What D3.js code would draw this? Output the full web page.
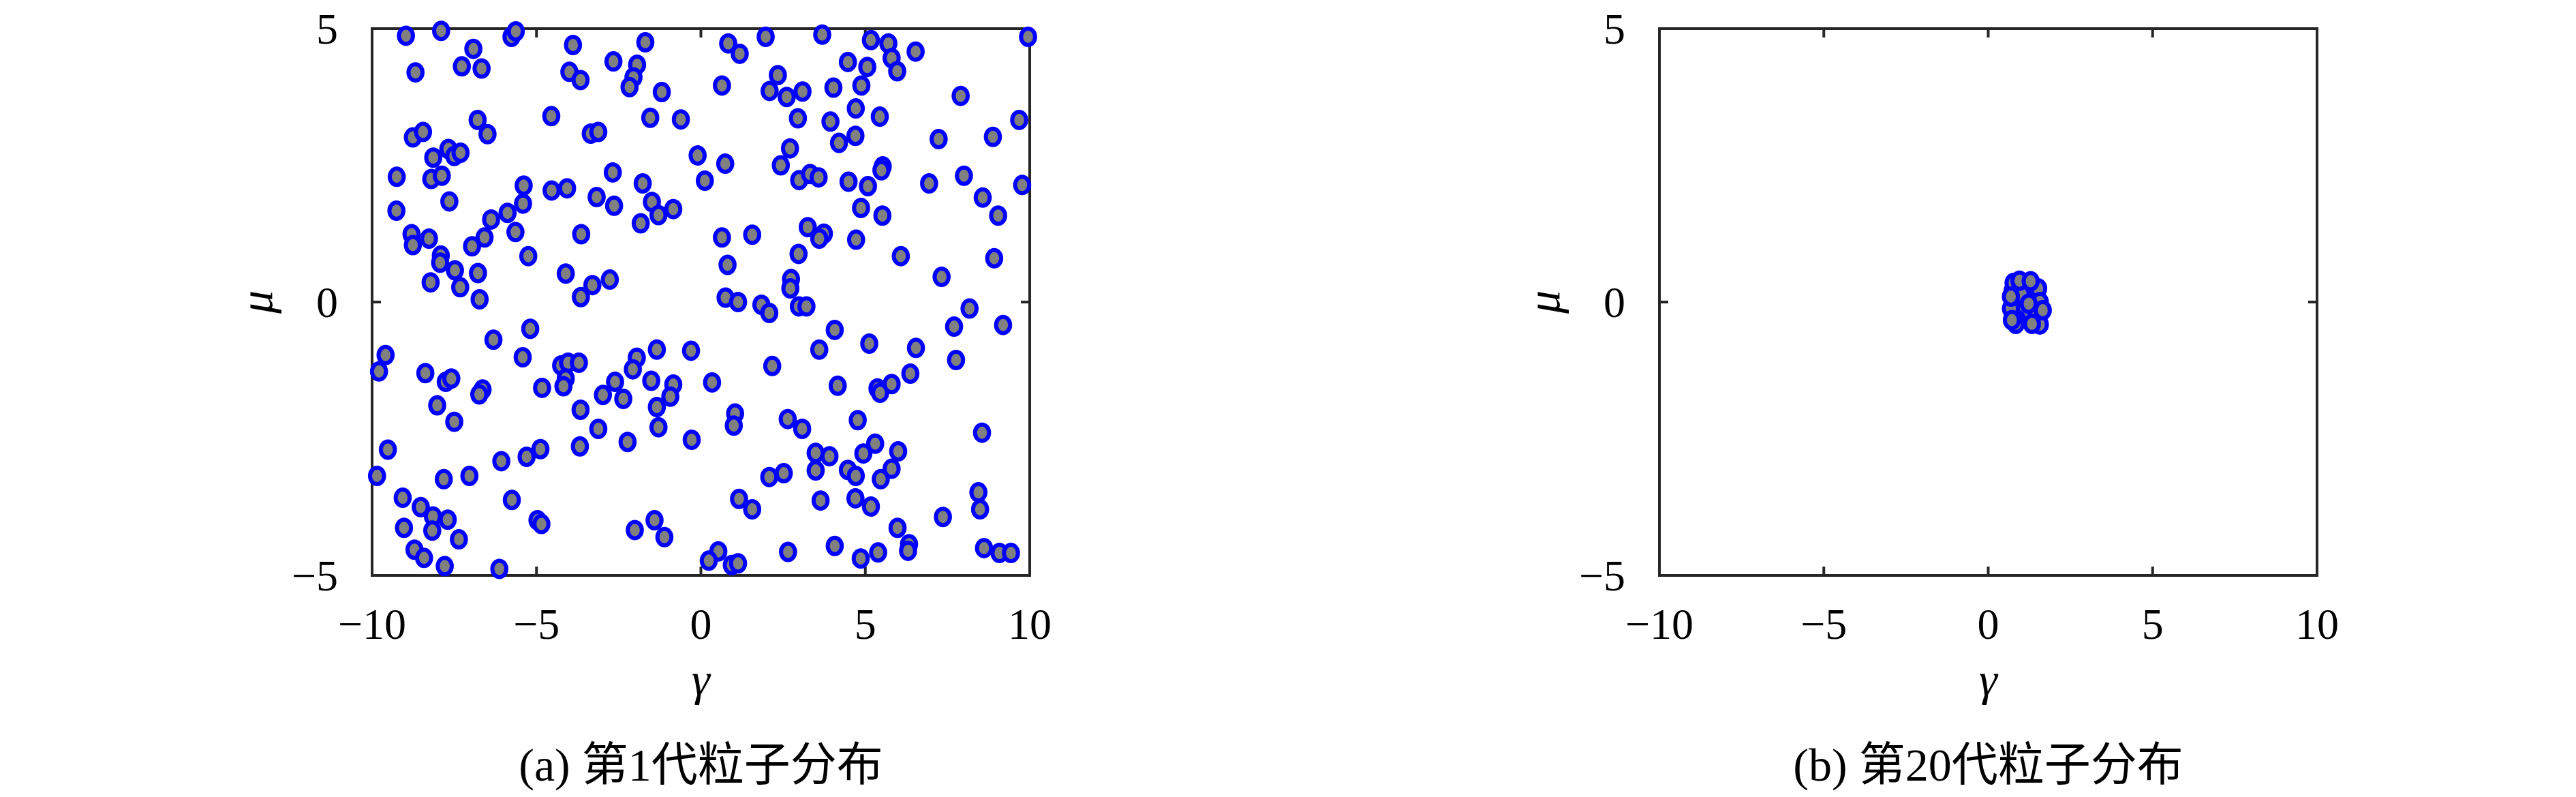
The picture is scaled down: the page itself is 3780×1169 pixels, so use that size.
<!DOCTYPE html>
<html>
<head>
<meta charset="utf-8">
<script src="https://cdn.jsdelivr.net/npm/d3@7"></script>
<style>
  body { margin: 0; background: #fff; }
</style>
</head>
<body>
<svg class="chart" width="3780" height="1169"></svg>
<script>
// particles of the 1st generation (gamma, mu)
const gen1Gamma = [
  -8.97,-7.90,-6.92,-5.76,-5.63,-8.68,-7.27,-6.67,-3.89,-1.69,-2.66,-1.94,-2.05,-2.17,-4.00,-3.66,-1.19,-4.55,-1.54,-0.61,
  -3.35,-3.12,-6.79,-6.49,-8.76,-8.45,-7.68,-7.50,-7.31,-8.14,-0.10,0.12,-9.25,-8.20,-7.88,-7.65,-9.26,-5.39,-5.41,-5.88,
  -6.38,-4.54,-4.07,-2.68,-3.17,-2.64,-1.77,-1.49,-1.29,-0.84,-1.83,-5.64,-3.64,-8.80,-8.76,-8.27,-6.58,-6.96,-7.91,-7.93,
  -7.48,-6.78,-8.22,-7.32,-6.73,-5.25,-4.11,-3.30,-2.77,-3.65,
  0.83,1.18,1.97,3.69,5.17,5.70,5.80,5.97,6.53,9.95,4.47,5.06,4.88,4.03,2.34,2.09,2.61,3.09,0.64,7.90,
  2.95,3.94,4.71,5.44,9.68,7.23,8.88,4.70,4.20,2.71,0.74,2.43,2.99,3.32,3.58,4.49,5.08,5.53,5.49,6.94,
  8.00,9.77,8.57,9.04,4.87,5.52,0.64,1.56,3.25,3.74,3.60,4.72,2.97,6.08,8.92,0.81,7.32,2.74,2.72,0.75,
  1.13,1.84,2.08,2.98,3.21,8.17,
  -5.19,-6.31,-9.59,-9.79,-8.38,-7.76,-7.59,-5.42,-6.64,-6.74,-8.02,-7.50,-4.83,-4.25,-4.04,-3.71,-4.11,-4.18,-3.66,-2.98,
  -2.61,-2.36,-1.95,-2.07,-1.34,-0.30,-1.51,-0.84,-0.93,-1.34,-1.29,-3.12,-2.23,-3.68,-0.28,-4.88,-5.30,-6.07,-9.52,-9.85,
  -7.82,-7.04,-5.75,-9.07,-8.52,-8.15,-7.70,-9.03,-8.17,-7.36,-8.71,-8.42,-7.79,-6.13,-4.97,-4.85,-2.01,-1.41,-1.11,
  4.07,3.60,5.12,6.54,7.70,9.19,7.76,2.17,0.34,4.16,5.37,5.45,5.80,6.37,1.04,1.00,2.64,3.08,4.77,8.55,
  3.49,3.91,3.49,4.94,5.30,6.00,4.47,4.71,5.80,5.47,2.08,2.52,1.16,1.56,3.64,4.70,5.17,8.44,8.49,7.36,
  5.98,6.33,6.30,4.07,2.65,4.86,5.39,8.61,9.08,9.43,0.53,0.24,0.94,1.13
];
const gen1Mu = [
  4.87,4.96,4.63,4.85,4.95,4.20,4.31,4.27,4.70,4.75,4.40,4.34,4.11,3.93,4.21,4.06,3.84,3.40,3.37,3.34,
  3.08,3.11,3.33,3.07,3.01,3.11,2.80,2.67,2.73,2.64,2.68,2.22,2.29,2.25,2.31,1.84,1.67,2.13,1.80,1.63,
  1.51,2.04,2.08,2.37,1.92,1.76,2.17,1.83,1.59,1.70,1.44,1.28,1.24,1.24,1.04,1.16,1.18,1.02,0.85,0.72,
  0.58,0.53,0.36,0.27,0.05,0.84,0.52,0.31,0.41,0.09,
  4.73,4.54,4.85,4.89,4.79,4.73,4.46,4.22,4.58,4.85,4.39,4.30,3.96,3.92,4.15,3.86,3.75,3.85,3.96,3.77,
  3.36,3.30,3.54,3.39,3.33,2.98,3.02,3.04,2.91,2.81,2.53,2.50,2.23,2.34,2.28,2.20,2.12,2.48,2.41,2.17,
  2.31,2.14,1.91,1.58,1.72,1.58,1.18,1.23,1.37,1.25,1.16,1.14,0.88,0.84,0.80,0.68,0.46,0.42,0.25,0.08,
  0.00,-0.05,-0.20,-0.08,-0.08,-0.12,
  -0.49,-0.69,-0.97,-1.27,-1.30,-1.46,-1.40,-1.01,-1.60,-1.69,-1.89,-2.19,-1.57,-1.16,-1.11,-1.11,-1.40,-1.54,-1.97,-1.70,
  -1.46,-1.77,-1.02,-1.23,-0.87,-0.89,-1.44,-1.51,-1.73,-1.92,-2.29,-2.32,-2.56,-2.64,-2.52,-2.69,-2.83,-2.91,-2.70,-3.18,
  -3.24,-3.18,-3.62,-3.58,-3.75,-3.92,-3.98,-4.13,-4.18,-4.34,-4.53,-4.68,-4.83,-4.88,-3.99,-4.06,-4.17,-3.99,-4.30,
  -0.51,-0.87,-0.76,-0.84,-0.45,-0.42,-1.06,-1.17,-1.47,-1.53,-1.58,-1.66,-1.50,-1.31,-2.04,-2.26,-2.14,-2.32,-2.16,-2.39,
  -2.76,-2.82,-3.08,-2.77,-2.59,-2.73,-3.07,-3.18,-3.05,-3.24,-3.20,-3.13,-3.60,-3.79,-3.63,-3.59,-3.74,-3.48,-3.79,-3.93,
  -4.13,-4.43,-4.55,-4.46,-4.57,-4.69,-4.58,-4.50,-4.59,-4.59,-4.56,-4.73,-4.81,-4.78
];

// particles of the 20th generation
const gen20Gamma = [1.18,1.52,0.74,1.02,1.40,1.57,1.05,0.88,1.57,0.69,0.77,0.84,1.23,0.95,1.29,0.69,0.72,1.33,1.66];
const gen20Mu = [0.31,0.25,0.20,0.14,-0.11,0.00,-0.19,-0.32,-0.41,-0.12,0.35,-0.40,-0.03,0.39,0.38,0.10,-0.33,-0.40,-0.15];

const xTicks = [-10, -5, 0, 5, 10];
const xTickLabels = ["\u221210", "\u22125", "0", "5", "10"];
const yTicks = [-5, 0, 5];
const yTickLabels = ["\u22125", "0", "5"];
const captions = ["(a) 第1代粒子分布", "(b) 第20代粒子分布"];

const svg = d3.select(".chart");
svg.append("rect").attr("width", 3780).attr("height", 1169).attr("fill", "white");

const plotTop = 42;
const plotW = 965;
const plotH = 802;
const axisColor = "#262626";
const serif = "'Liberation Serif', 'DejaVu Serif', serif";

const drawPanel = (left, gammas, mus, caption) => {
  const x = d3.scaleLinear().domain([-10, 10]).range([left, left + plotW]);
  const y = d3.scaleLinear().domain([-5, 5]).range([plotTop + plotH, plotTop]);
  const g = svg.append("g");

  // box
  g.append("rect")
    .attr("x", left)
    .attr("y", plotTop)
    .attr("width", plotW)
    .attr("height", plotH)
    .attr("fill", "none")
    .attr("stroke", axisColor)
    .attr("stroke-width", 4);

  // inward ticks on all four sides
  const tickLen = 13;
  xTicks.forEach((t) => {
    g.append("line")
      .attr("x1", x(t)).attr("x2", x(t))
      .attr("y1", plotTop + plotH).attr("y2", plotTop + plotH - tickLen)
      .attr("stroke", axisColor).attr("stroke-width", 4);
    g.append("line")
      .attr("x1", x(t)).attr("x2", x(t))
      .attr("y1", plotTop).attr("y2", plotTop + tickLen)
      .attr("stroke", axisColor).attr("stroke-width", 4);
  });
  yTicks.forEach((t) => {
    g.append("line")
      .attr("x1", left).attr("x2", left + tickLen)
      .attr("y1", y(t)).attr("y2", y(t))
      .attr("stroke", axisColor).attr("stroke-width", 4);
    g.append("line")
      .attr("x1", left + plotW).attr("x2", left + plotW - tickLen)
      .attr("y1", y(t)).attr("y2", y(t))
      .attr("stroke", axisColor).attr("stroke-width", 4);
  });

  // tick labels
  g.selectAll(".xl")
    .data(xTicks)
    .enter()
    .append("text")
    .attr("x", (d) => x(d))
    .attr("y", plotTop + plotH + 93)
    .attr("text-anchor", "middle")
    .attr("font-family", serif)
    .attr("font-size", 64)
    .text((d, i) => xTickLabels[i]);

  g.selectAll(".yl")
    .data(yTicks)
    .enter()
    .append("text")
    .attr("x", left - 50)
    .attr("y", (d) => y(d) + 22)
    .attr("text-anchor", "end")
    .attr("font-family", serif)
    .attr("font-size", 64)
    .text((d, i) => yTickLabels[i]);

  // axis labels
  g.append("text")
    .attr("x", left + plotW / 2)
    .attr("y", 1020)
    .attr("text-anchor", "middle")
    .attr("font-family", serif)
    .attr("font-style", "italic")
    .attr("font-size", 68)
    .text("γ");

  g.append("text")
    .attr("transform", `translate(${left - 147}, ${plotTop + plotH / 2}) rotate(-90)`)
    .attr("text-anchor", "middle")
    .attr("font-family", serif)
    .attr("font-style", "italic")
    .attr("font-size", 68)
    .text("μ");

  // particles
  g.selectAll(".pt")
    .data(gammas.map((gm, i) => [gm, mus[i]]))
    .enter()
    .append("ellipse")
    .attr("cx", (d) => x(d[0]))
    .attr("cy", (d) => y(d[1]))
    .attr("rx", 10.3)
    .attr("ry", 12)
    .attr("fill", "#808080")
    .attr("stroke", "#0000ff")
    .attr("stroke-width", 6);

  // caption
  g.append("text")
    .attr("x", left + plotW / 2)
    .attr("y", 1145)
    .attr("text-anchor", "middle")
    .attr("font-family", "'Liberation Serif', 'Noto Sans CJK SC', serif")
    .attr("font-size", 68)
    .text(caption);
};

drawPanel(546, gen1Gamma, gen1Mu, captions[0]);
drawPanel(2435, gen20Gamma, gen20Mu, captions[1]);
</script>
</body>
</html>
